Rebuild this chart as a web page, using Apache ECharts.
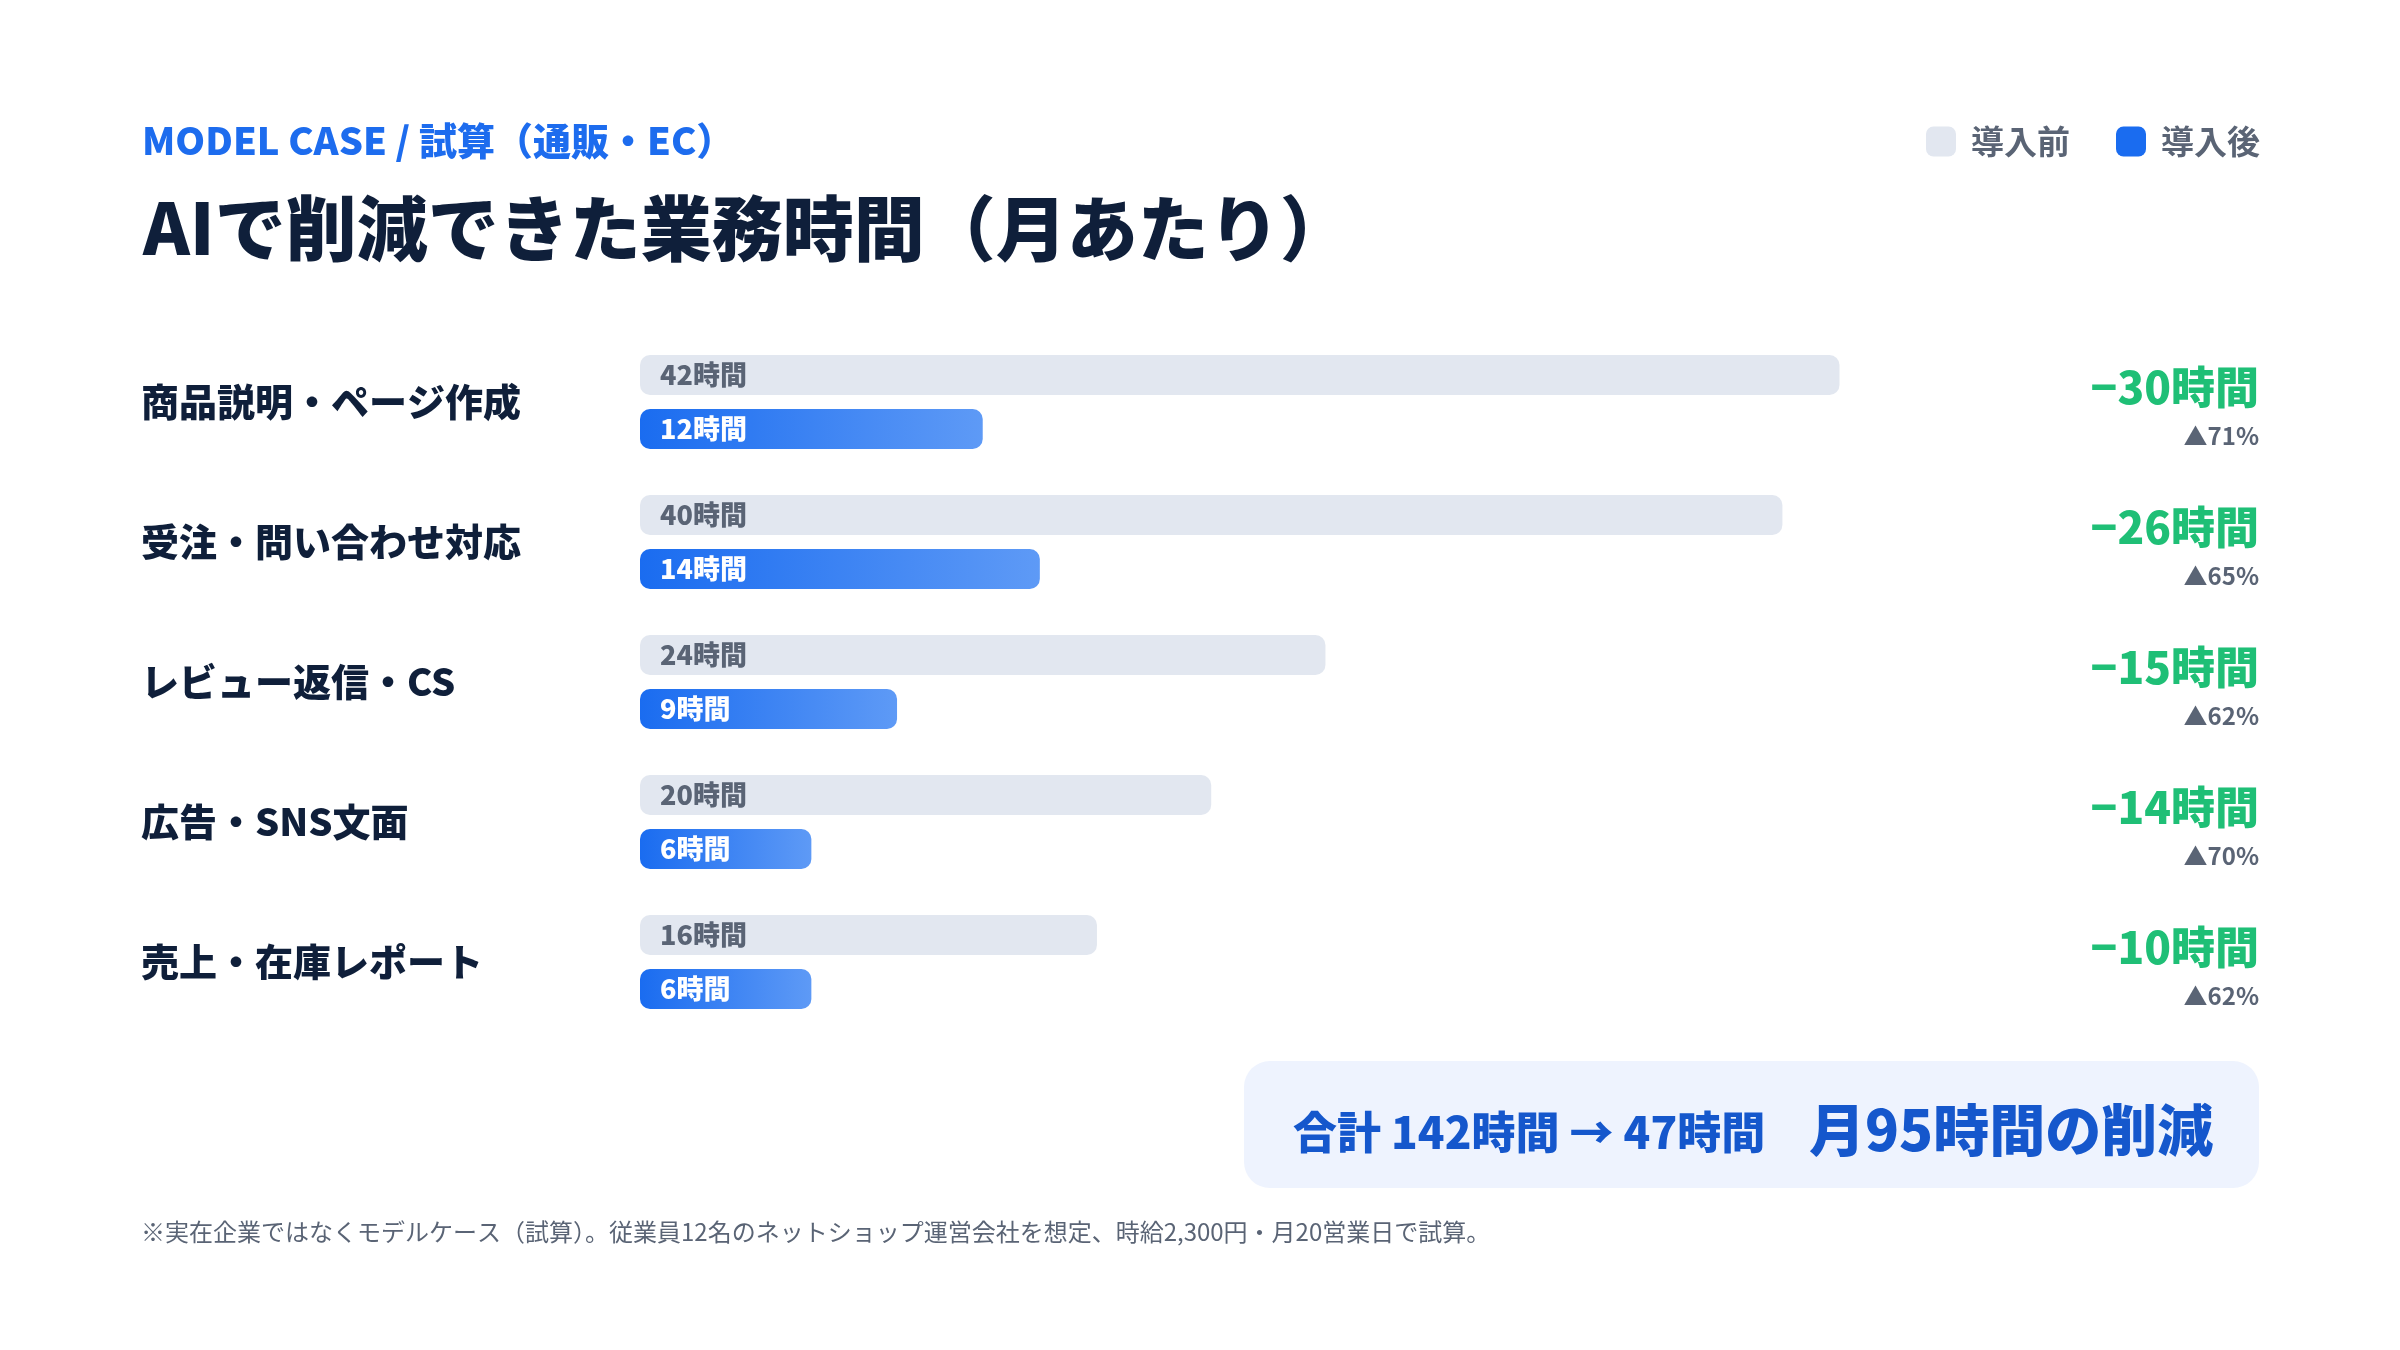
<!DOCTYPE html>
<html>
<head>
<meta charset="utf-8">
<script src="https://cdn.jsdelivr.net/npm/echarts@6/dist/echarts.min.js"></script>
<style>
html,body{margin:0;padding:0;background:#fff;}
#chart{width:2400px;height:1350px;}
</style>
</head>
<body>
<div id="chart"></div>
<script>
// 業務カテゴリ
var categories = ['商品説明・ページ作成', '受注・問い合わせ対応', 'レビュー返信・CS', '広告・SNS文面', '売上・在庫レポート'];
// 導入前 / 導入後 (時間/月)
var before = [42, 40, 24, 20, 16];
var after = [12, 14, 9, 6, 6];

var FONT = '"Noto Sans CJK JP", "Noto Sans", sans-serif';
var NAVY = '#0f1f3a';
var GRAY = '#5a6475';

var sumBefore = before.reduce(function(a, b){ return a + b; }, 0);
var sumAfter = after.reduce(function(a, b){ return a + b; }, 0);

var myChart = echarts.init(document.getElementById('chart'));

myChart.setOption({
    backgroundColor: '#ffffff',
    animation: false,
    textStyle: { fontFamily: FONT },
    title: [
        {
            text: 'MODEL CASE / 試算（通販・EC）',
            left: 137, top: 117,
            textStyle: { fontFamily: FONT, fontSize: 38, fontWeight: 900, color: '#1d6cee' }
        },
        {
            text: 'AIで削減できた業務時間（月あたり）',
            left: 138, top: 188,
            textStyle: { fontFamily: FONT, fontSize: 71, fontWeight: 900, color: NAVY }
        },
        {
            text: '※実在企業ではなくモデルケース（試算）。従業員12名のネットショップ運営会社を想定、時給2,300円・月20営業日で試算。',
            left: 136, top: 1215,
            textStyle: { fontFamily: FONT, fontSize: 24, fontWeight: 'normal', color: GRAY }
        }
    ],
    legend: {
        right: 135, top: 120,
        itemWidth: 30, itemHeight: 30, itemGap: 46,
        icon: 'roundRect',
        textStyle: { fontFamily: FONT, fontSize: 33, fontWeight: 'bold', color: GRAY, padding: [0, 0, 0, 10] },
        data: [
            { name: '導入前', itemStyle: { color: '#e2e7f0' } },
            { name: '導入後', itemStyle: { color: '#1a6cf0' } }
        ]
    },
    grid: { left: 640, right: 332, top: 332, height: 700, containLabel: false },
    xAxis: { type: 'value', min: 0, max: 50, show: false },
    yAxis: [
        {
            type: 'category', inverse: true, data: categories,
            axisLine: { show: false }, axisTick: { show: false },
            axisLabel: {
                align: 'left', margin: 499,
                fontFamily: FONT, fontSize: 38, fontWeight: 900, color: NAVY
            }
        },
        {
            type: 'category', inverse: true, data: categories, position: 'right', offset: 191,
            axisLine: { show: false }, axisTick: { show: false },
            axisLabel: {
                align: 'right', margin: 0, padding: [19, 0, 0, 0],
                formatter: function(v, i){
                    var d = before[i] - after[i];
                    var p = Math.floor(d / before[i] * 100);
                    return '{d|−' + d + '時間}\n{p|▲' + p + '%}';
                },
                rich: {
                    d: { fontFamily: FONT, fontSize: 44, fontWeight: 900, color: '#1fbf76', lineHeight: 49, align: 'right' },
                    p: { fontFamily: FONT, fontSize: 24, fontWeight: 'bold', color: GRAY, lineHeight: 49, align: 'right' }
                }
            }
        }
    ],
    series: [
        {
            name: '導入前', type: 'bar', data: before,
            barWidth: 40, barGap: '35%',
            itemStyle: { color: '#e2e7f0', borderRadius: 10 },
            label: {
                show: true, position: 'insideLeft', distance: 20,
                formatter: '{c}時間',
                fontFamily: FONT, fontSize: 27, fontWeight: 900, color: GRAY
            }
        },
        {
            name: '導入後', type: 'bar', data: after,
            barWidth: 40,
            itemStyle: {
                borderRadius: 10,
                color: new echarts.graphic.LinearGradient(0, 0, 1, 0, [
                    { offset: 0, color: '#1a6cf0' },
                    { offset: 1, color: '#5e9af6' }
                ])
            },
            label: {
                show: true, position: 'insideLeft', distance: 20,
                formatter: '{c}時間',
                fontFamily: FONT, fontSize: 27, fontWeight: 900, color: '#ffffff'
            }
        }
    ],
    graphic: [
        {
            type: 'group', left: 1244, top: 1061,
            children: [
                { type: 'rect', shape: { x: 0, y: 0, width: 1015, height: 127, r: 26 }, style: { fill: '#eef3fe' } },
                {
                    type: 'text', x: 49, y: 71,
                    style: {
                        text: '合計 ' + sumBefore + '時間 → ' + sumAfter + '時間',
                        fontFamily: FONT, fontSize: 44, fontWeight: 900, fill: '#1557cc',
                        textVerticalAlign: 'middle'
                    }
                },
                {
                    type: 'text', x: 565, y: 69,
                    style: {
                        text: '月' + (sumBefore - sumAfter) + '時間の削減',
                        fontFamily: FONT, fontSize: 56, fontWeight: 900, fill: '#1557cc',
                        textVerticalAlign: 'middle'
                    }
                }
            ]
        }
    ]
});
</script>
</body>
</html>
